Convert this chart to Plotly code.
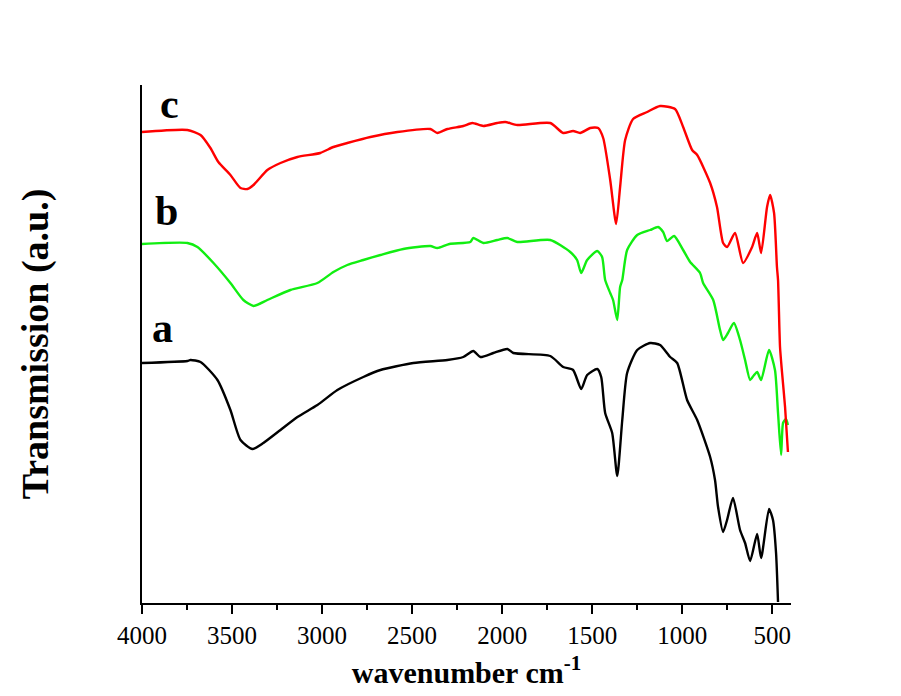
import plotly.graph_objects as go

# Wavenumbers (cm-1) and transmission (arbitrary units)
wn_a = [4000, 3748, 3731, 3675, 3581, 3509, 3453, 3387, 3326, 3231, 3137, 3026, 2915, 2771, 2676,
        2493, 2304, 2216, 2160, 2121, 2049, 1971, 1938, 1733, 1661, 1606, 1561, 1528, 1472, 1450,
        1428, 1389, 1361, 1333, 1306, 1250, 1178, 1123, 1067, 1028, 973, 917, 845, 818, 801, 773,
        751, 718, 679, 651, 623, 584, 562, 518, 496, 479, 468]
t_a = [240, 242, 243, 241, 223, 193, 163, 154, 160, 173, 186, 198, 213, 226, 233,
       240, 243, 246, 252, 246, 250, 254, 250, 247, 236, 233, 214, 228, 234, 226,
       190, 170, 127, 183, 230, 253, 260, 258, 246, 240, 203, 183, 146, 123, 96, 71,
       83, 105, 73, 60, 42, 69, 45, 94, 83, 50, 1]

wn_b = [4000, 3748, 3692, 3603, 3509, 3437, 3381, 3304, 3176, 3026, 2937, 2860, 2771, 2676, 2549,
        2399, 2360, 2293, 2177, 2160, 2105, 2027, 1971, 1916, 1733, 1622, 1584, 1561, 1528, 1472,
        1445, 1428, 1400, 1384, 1361, 1345, 1333, 1306, 1250, 1178, 1134, 1106, 1084, 1045, 995,
        956, 901, 884, 828, 790, 773, 746, 713, 679, 651, 623, 601, 584, 562, 518, 485, 468, 451,
        440, 424, 413]
t_b = [359, 360, 356, 340, 320, 303, 297, 303, 313, 320, 331, 338, 343, 348, 354,
       357, 355, 359, 361, 365, 360, 363, 365, 361, 363, 351, 343, 330, 343, 352,
       346, 323, 310, 303, 283, 316, 323, 353, 368, 373, 376, 371, 362, 367, 353,
       341, 330, 320, 303, 273, 263, 270, 280, 263, 243, 223, 228, 231, 223, 253, 233, 190, 148,
       180, 184, 178]

wn_c = [4000, 3748, 3675, 3620, 3576, 3509, 3453, 3415, 3381, 3304, 3231, 3137, 3010, 2937, 2860,
        2732, 2582, 2399, 2360, 2304, 2216, 2166, 2105, 2027, 1983, 1916, 1733, 1661, 1606, 1567,
        1511, 1467, 1439, 1400, 1367, 1345, 1317, 1273, 1195, 1123, 1040, 995, 945, 917, 845, 807,
        773, 751, 707, 662, 612, 584, 562, 529, 512, 490, 474, 468, 457, 446, 429, 413]
t_c = [471, 473, 468, 455, 441, 428, 415, 414, 418, 433, 440, 446, 450, 456, 460,
       466, 471, 474, 470, 474, 477, 480, 477, 480, 481, 478, 480, 470, 472, 470,
       475, 475, 465, 423, 379, 416, 463, 484, 491, 497, 494, 476, 453, 448, 420, 396,
       360, 356, 370, 340, 356, 370, 350, 396, 408, 390, 336, 323, 256, 231, 196, 151]

curves = [("a", wn_a, t_a, "#000000"), ("b", wn_b, t_b, "#11ee11"), ("c", wn_c, t_c, "#ff0000")]

label_text = ["a", "b", "c"]
label_x = [3886, 3862, 3845]
label_y = [275, 392, 499]

x_ticks = [4000, 3500, 3000, 2500, 2000, 1500, 1000, 500]

fig = go.Figure()
for name, xs, ys, col in curves:
    fig.add_trace(go.Scatter(x=xs, y=ys, mode="lines", name=name,
                             line=dict(color=col, width=2.4, shape="spline", smoothing=0.6),
                             showlegend=False))

for t, x, y in zip(label_text, label_x, label_y):
    fig.add_annotation(x=x, y=y, text="<b>%s</b>" % t, showarrow=False,
                       font=dict(family="Liberation Serif", size=42, color="black"))

fig.update_layout(
    width=901, height=696,
    margin=dict(l=134, r=118, t=77, b=101),
    paper_bgcolor="white", plot_bgcolor="white",
    font=dict(family="Liberation Serif", color="black"),
)
fig.update_xaxes(
    range=[4000, 396], showline=True, linecolor="black", linewidth=2,
    showgrid=False, zeroline=False,
    tickmode="array", tickvals=x_ticks, ticktext=[str(v) for v in x_ticks],
    ticks="outside", ticklen=9, tickwidth=2, tickcolor="black",
    minor=dict(ticks="outside", ticklen=5, tickwidth=2, tickcolor="black", dtick=250, tick0=0),
    tickfont=dict(family="Liberation Serif", size=25, color="black"),
    title=dict(text="<b>wavenumber cm<sup>-1</sup></b>",
               font=dict(family="Liberation Serif", size=30, color="black"), standoff=14),
)
fig.update_yaxes(
    range=[0, 518], showline=True, linecolor="black", linewidth=2,
    showgrid=False, zeroline=False, showticklabels=False, ticks="",
    title=dict(text="<b>Transmission (a.u.)</b>",
               font=dict(family="Liberation Serif", size=38, color="black"), standoff=80),
)

fig.write_html("out.html")
